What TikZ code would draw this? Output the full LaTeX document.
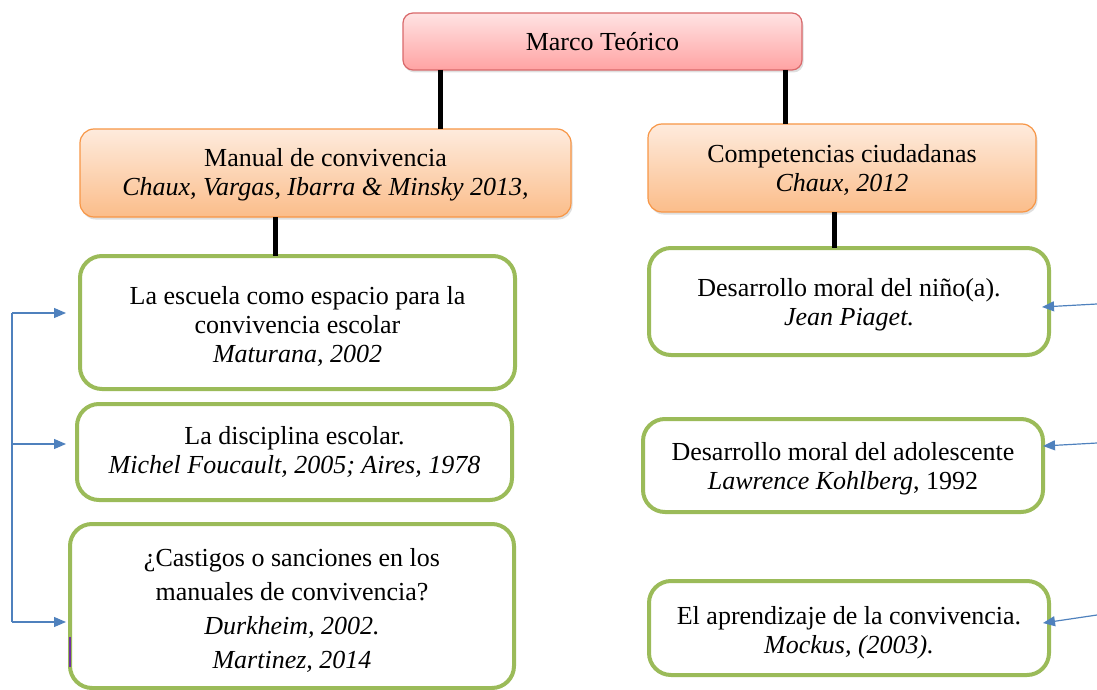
\documentclass[tikz,border=0pt]{standalone}
\usepackage{fontspec}
\setmainfont{Liberation Serif}
\usetikzlibrary{shadows,arrows.meta}
\definecolor{pinkT}{HTML}{FFE3E3}
\definecolor{pinkBot}{HTML}{FFA3A3}
\definecolor{pinkB}{HTML}{D9696B}
\definecolor{orT}{HTML}{FEEBDD}
\definecolor{orBot}{HTML}{FBBD8A}
\definecolor{orB}{HTML}{F79646}
\definecolor{leafG}{HTML}{9BBB59}
\definecolor{refB}{HTML}{4F81BD}
\definecolor{purp}{HTML}{7030A0}
\begin{document}
\begin{tikzpicture}[x=1pt,y=-1pt,
  every node/.style={inner sep=0pt, outer sep=0pt, align=center,
    font=\fontsize{26}{29}\selectfont},
  shad/.style={drop shadow={opacity=0.25, shadow xshift=1.5pt, shadow yshift=-2.5pt}},
  mainbox/.style={rounded corners=10pt, draw=pinkB, line width=1.2pt,
    top color=pinkT, bottom color=pinkBot, shad},
  subbox/.style={rounded corners=14pt, draw=orB, line width=1.2pt,
    top color=orT, bottom color=orBot, shad},
  leaf/.style={rounded corners=22pt, draw=leafG, line width=4pt, fill=white},
  link/.style={line width=5pt, black},
  refarrow/.style={refB, line width=1.2pt, -{Triangle[length=12pt,width=10pt]}},
  refline/.style={refB, line width=1.2pt}
]
\useasboundingbox (0,0) rectangle (1097,690);

% boxes
\node[mainbox, minimum width=399pt, minimum height=57pt] (marco) at (602.5,41.5) {};
\node[subbox, minimum width=491pt, minimum height=88pt] (manual) at (325.5,173) {};
\node[subbox, minimum width=388pt, minimum height=88pt] (comp) at (842,168) {};
\node[leaf, minimum width=435pt, minimum height=133pt] (L1) at (297.5,322.5) {};
\node[leaf, minimum width=435pt, minimum height=96pt] (L2) at (294.5,452) {};
\node[leaf, minimum width=444pt, minimum height=164pt] (L3) at (292,606) {};
\node[leaf, minimum width=400pt, minimum height=107pt] (R1) at (849,301.5) {};
\node[leaf, minimum width=400pt, minimum height=93pt] (R2) at (843,465.5) {};
\node[leaf, minimum width=400pt, minimum height=94pt] (R3) at (849,628) {};

% texts
\node (marcoT) at (marco.center) {Marco Teórico};
\node (manualT) at ([yshift=-2pt]manual.center)
  {Manual de convivencia\\\textit{Chaux, Vargas, Ibarra \& Minsky 2013,}};
\node (compT) at ([yshift=-2pt]comp.center)
  {Competencias ciudadanas\\\textit{Chaux, 2012}};
\node (L1T) at ([yshift=-3.5pt]L1.center)
  {La escuela como espacio para la\\convivencia escolar\\\textit{Maturana, 2002}};
\node (L2T) at (L2.center)
  {La disciplina escolar.\\\textit{Michel Foucault, 2005; Aires, 1978}};
\node[font=\fontsize{26}{34}\selectfont] (L3T) at ([yshift=-4pt]L3.center)
  {¿Castigos o sanciones en los\\manuales de convivencia?\\\textit{Durkheim, 2002.}\\\textit{Martinez, 2014}};
\node (R1T) at ([yshift=-3.5pt]R1.center)
  {Desarrollo moral del niño(a).\\\textit{Jean Piaget.}};
\node (R2T) at ([yshift=-3pt]R2.center)
  {Desarrollo moral del adolescente\\\textit{Lawrence Kohlberg}, 1992};
\node (R3T) at ([yshift=-5pt]R3.center)
  {El aprendizaje de la convivencia.\\\textit{Mockus, (2003).}};

% black connectors
\coordinate (xa) at (440,0);
\coordinate (xb) at (785,0);
\coordinate (xc) at (275,0);
\coordinate (xd) at (834,0);
\draw[link] (xa |- marco.south) -- (xa |- manual.north);
\draw[link] (xb |- marco.south) -- (xb |- comp.north);
\draw[link] (xc |- manual.south) -- (xc |- L1.north);
\draw[link] (xd |- comp.south) -- (xd |- R1.north);

% left bracket arrows
\coordinate (b1) at (12,313);
\coordinate (b2) at (12,444);
\coordinate (b3) at (12,622);
\coordinate (t1) at (66,313);
\coordinate (t2) at (66,444);
\coordinate (t3) at (66,622);
\draw[refline] (b1) -- (b3);
\draw[refarrow] (b1) -- (t1);
\draw[refarrow] (b2) -- (t2);
\draw[refarrow] (b3) -- (t3);

% right arrows
\coordinate (s1) at (1097,304);
\coordinate (s2) at (1097,443);
\coordinate (s3) at (1097,615);
\coordinate (u1) at (1042,307);
\coordinate (u2) at (1043,446);
\coordinate (u3) at (1043,623);
\draw[refarrow] (s1) -- (u1);
\draw[refarrow] (s2) -- (u2);
\draw[refarrow] (s3) -- (u3);

% small purple mark on L3 border
\coordinate (p1) at (70,637);
\coordinate (p2) at (70,667);
\draw[purp, line width=1.2pt] (p1) -- (p2);
\end{tikzpicture}
\end{document}
